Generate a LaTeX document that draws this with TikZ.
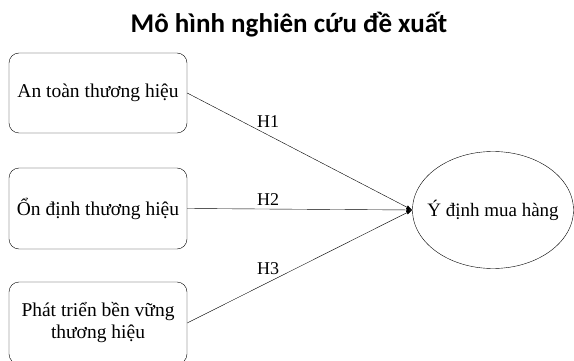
\documentclass[tikz,border=0pt]{standalone}
\usepackage{fontspec}
\setmainfont{Liberation Serif}
\newfontfamily\titlefont{Carlito}
\usetikzlibrary{shapes,positioning,arrows.meta}

\tikzset{
  factor/.style={draw, rounded corners=10pt, minimum width=178pt, minimum height=80pt,
    align=center, inner sep=0pt, font=\fontsize{19.5}{22}\selectfont},
  goal/.style={draw, ellipse, minimum width=161pt, minimum height=117pt, inner sep=0pt,
    label={[font=\fontsize{19}{22}\selectfont]center:#1}},
  hyp/.style={font=\fontsize{18}{20}\selectfont}
}

\begin{document}
\begin{tikzpicture}[x=1pt, y=-1pt, -{Latex[length=6pt,width=4pt]}]
    \useasboundingbox (0,0) rectangle (574,361);
    \node[font=\titlefont\bfseries\fontsize{27}{30}\selectfont] (title) at (289, 25) {Mô hình nghiên cứu đề xuất};

    \node[factor] (safety) at (98, 93) {An toàn thương hiệu};
    \node[factor, minimum height=81pt] (stability) at (98, 208.5) {Ổn định thương hiệu};
    \node[factor, minimum height=82pt] (growth) at (98, 323) {Phát triển bền vững\\thương hiệu};
    \node[goal={Ý định mua hàng}] (intent) at (493, 210) {};

    \path
    (safety.east)    edge node[hyp, pos=0.36, above=4pt] {H1} (intent.west)
    (stability.east) edge node[hyp, pos=0.36, above=0pt] {H2} (intent.west)
    (growth.east)    edge node[hyp, pos=0.36, above=4pt] {H3} (intent.west);
\end{tikzpicture}
\end{document}
